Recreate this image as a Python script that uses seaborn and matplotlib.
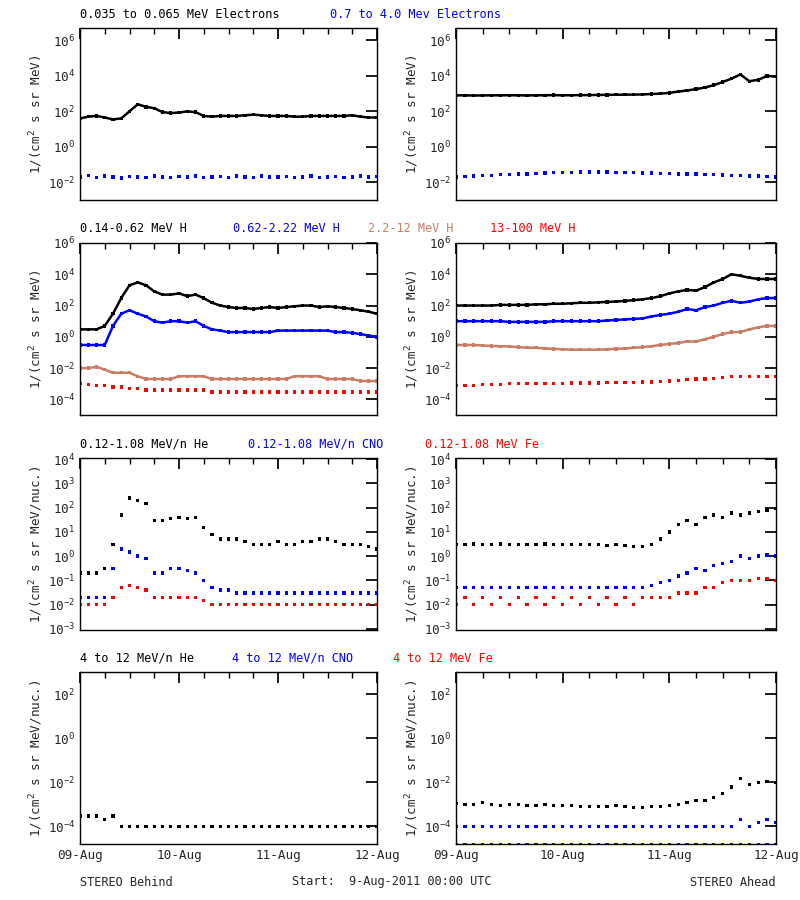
import numpy as np
import pandas as pd
import matplotlib
matplotlib.use("Agg")
import matplotlib.pyplot as plt
import seaborn as sns
from matplotlib.ticker import FixedLocator

sns.set_theme(style="white")
plt.rcParams['font.family'] = ['DejaVu Sans Mono', 'DejaVu Sans']

hours = list(range(0, 73, 2))  # 37 samples, hours since 9-Aug-2011 00:00

# Row 1: electrons
b_e_lo = [40,50,55,45,35,40,100,250,180,150,90,80,85,100,90,55,50,55,55,55,60,65,60,55,55,55,50,50,55,55,55,55,55,60,50,45,45]
b_e_hi = [0.02,0.025,0.018,0.022,0.02,0.017,0.021,0.02,0.019,0.023,0.02,0.018,0.021,0.02,0.022,0.019,0.02,0.021,0.018,0.022,0.02,0.019,0.023,0.02,0.02,0.021,0.019,0.02,0.022,0.018,0.02,0.021,0.019,0.02,0.022,0.02,0.021]
a_e_lo = [800,800,780,790,800,800,810,800,790,800,810,820,800,810,820,830,840,850,860,870,880,900,950,1000,1100,1300,1500,1800,2200,3000,4500,7000,12000,5000,6000,10000,9000]
a_e_hi = [0.02,0.021,0.022,0.024,0.025,0.027,0.028,0.03,0.03,0.032,0.033,0.035,0.035,0.036,0.037,0.038,0.038,0.038,0.036,0.035,0.035,0.034,0.033,0.032,0.031,0.03,0.03,0.029,0.028,0.027,0.026,0.025,0.024,0.023,0.022,0.021,0.02]

# Row 2: protons
b_h1 = [3,3,3,5,30,300,2000,3000,2000,800,500,500,600,400,500,300,150,100,80,70,70,60,70,80,70,80,90,100,100,80,90,80,70,60,50,40,30]
b_h2 = [0.3,0.3,0.3,0.3,5,30,50,30,20,10,8,10,10,8,10,5,3,2.5,2,2,2,2,2,2,2.5,2.5,2.5,2.5,2.5,2.5,2.5,2,2,1.8,1.5,1.2,1.0]
b_h3 = [0.01,0.01,0.012,0.008,0.005,0.005,0.005,0.003,0.002,0.002,0.002,0.002,0.003,0.003,0.003,0.003,0.002,0.002,0.002,0.002,0.002,0.002,0.002,0.002,0.002,0.002,0.003,0.003,0.003,0.003,0.002,0.002,0.002,0.002,0.0015,0.0015,0.0015]
b_h4 = [0.001,0.0009,0.0008,0.0008,0.0006,0.0006,0.0005,0.0005,0.0004,0.0004,0.0004,0.0004,0.0004,0.0004,0.0004,0.0004,0.0003,0.0003,0.0003,0.0003,0.0003,0.0003,0.0003,0.0003,0.0003,0.0003,0.0003,0.0003,0.0003,0.0003,0.0003,0.0003,0.0003,0.0003,0.0003,0.0003,0.0003]
a_h1 = [100,100,100,100,100,110,110,110,110,120,120,130,130,140,150,150,160,170,180,200,220,250,300,400,600,800,1000,900,1500,3000,5000,10000,8000,6000,5000,5000,5000]
a_h2 = [10,10,10,10,10,10,9,9,9,9,9,10,10,10,10,10,10,11,12,13,14,15,20,25,30,40,60,50,80,100,150,200,150,180,250,300,300]
a_h3 = [0.3,0.3,0.3,0.28,0.26,0.25,0.24,0.22,0.2,0.2,0.18,0.17,0.16,0.15,0.15,0.15,0.15,0.16,0.17,0.18,0.2,0.22,0.25,0.3,0.35,0.4,0.5,0.5,0.7,1.0,1.5,2.0,2.0,3.0,4.0,5.0,5.0]
a_h4 = [0.0008,0.0008,0.0008,0.0009,0.0009,0.0009,0.001,0.001,0.001,0.001,0.001,0.001,0.001,0.0011,0.0011,0.0011,0.0011,0.0012,0.0012,0.0012,0.0012,0.0013,0.0013,0.0014,0.0015,0.0016,0.0018,0.002,0.002,0.0022,0.0025,0.003,0.003,0.003,0.003,0.003,0.003]

# Row 3: low-energy heavy ions
b_he = [0.2,0.2,0.2,0.3,3,50,250,200,150,30,30,35,40,35,40,15,8,5,5,5,4,3,3,3,4,3,3,4,4,5,5,4,3,3,3,2.5,2]
b_cno = [0.02,0.02,0.02,0.02,0.3,2,1.5,1,0.8,0.2,0.2,0.3,0.3,0.25,0.2,0.1,0.05,0.04,0.04,0.03,0.03,0.03,0.03,0.03,0.03,0.03,0.03,0.03,0.03,0.03,0.03,0.03,0.03,0.03,0.03,0.03,0.03]
b_fe = [0.01,0.01,0.01,0.01,0.02,0.05,0.06,0.05,0.04,0.02,0.02,0.02,0.02,0.02,0.02,0.015,0.01,0.01,0.01,0.01,0.01,0.01,0.01,0.01,0.01,0.01,0.01,0.01,0.01,0.01,0.01,0.01,0.01,0.01,0.01,0.01,0.01]
a_he = [3,3,3.2,3,3,3.2,3,3,3,3,3.2,3,3,3,3,3,3,2.8,3,2.8,2.5,2.5,3,5,10,20,30,20,40,50,40,60,50,60,70,80,90]
a_cno = [0.05,0.05,0.05,0.05,0.05,0.05,0.05,0.05,0.05,0.05,0.05,0.05,0.05,0.05,0.05,0.05,0.05,0.05,0.05,0.05,0.05,0.05,0.06,0.08,0.1,0.15,0.2,0.3,0.25,0.4,0.5,0.6,1.0,0.8,1.0,1.1,1.0]
a_fe = [0.01,0.02,0.01,0.02,0.01,0.02,0.01,0.02,0.01,0.02,0.01,0.02,0.01,0.02,0.01,0.02,0.01,0.02,0.01,0.02,0.01,0.02,0.02,0.02,0.02,0.03,0.03,0.03,0.05,0.05,0.08,0.1,0.1,0.1,0.12,0.12,0.1]

# Row 4: high-energy heavy ions
b_he_hi = [3e-4,3e-4,3e-4,2e-4,3e-4,1e-4,1e-4,1e-4,1e-4,1e-4,1e-4,1e-4,1e-4,1e-4,1e-4,1e-4,1e-4,1e-4,1e-4,1e-4,1e-4,1e-4,1e-4,1e-4,1e-4,1e-4,1e-4,1e-4,1e-4,1e-4,1e-4,1e-4,1e-4,1e-4,1e-4,1e-4,1e-4]
a_he_hi = [1.1e-3,1e-3,1e-3,1.2e-3,1e-3,9e-4,1e-3,1e-3,9e-4,9e-4,1e-3,9e-4,9e-4,9e-4,8e-4,8e-4,8e-4,8e-4,9e-4,8e-4,7e-4,7e-4,8e-4,8e-4,9e-4,1e-3,1.2e-3,1.5e-3,1.5e-3,2e-3,3e-3,6e-3,1.5e-2,8e-3,1e-2,1.1e-2,1e-2]
a_cno_hi = [1e-4,1e-4,1e-4,1e-4,1e-4,1e-4,1e-4,1e-4,1e-4,1e-4,1e-4,1e-4,1e-4,1e-4,1e-4,1e-4,1e-4,1e-4,1e-4,1e-4,1e-4,1e-4,1e-4,1e-4,1e-4,1e-4,1e-4,1e-4,1e-4,1e-4,1e-4,1e-4,2e-4,1e-4,1.5e-4,2e-4,1.5e-4]
a_cno_floor = [1.5e-5]*37

date_ticks = [0, 24, 48, 72]
date_labels = ["09-Aug", "10-Aug", "11-Aug", "12-Aug"]

row_titles = [
    [("0.035 to 0.065 MeV Electrons", "black"), ("0.7 to 4.0 Mev Electrons", "blue")],
    [("0.14-0.62 MeV H", "black"), ("0.62-2.22 MeV H", "blue"), ("2.2-12 MeV H", "#c87d64"), ("13-100 MeV H", "red")],
    [("0.12-1.08 MeV/n He", "black"), ("0.12-1.08 MeV/n CNO", "blue"), ("0.12-1.08 MeV Fe", "red")],
    [("4 to 12 MeV/n He", "black"), ("4 to 12 MeV/n CNO", "blue"), ("4 to 12 MeV Fe", "red")],
]
title_x = [[80, 330], [80, 233, 368, 490], [80, 248, 425], [80, 232, 393]]

ylims = [(1e-3, 10**6.7), (1e-5, 1e6), (10**-3.05, 10**4.05), (10**-4.8, 1e3)]
ylabels = ["1/(cm$^2$ s sr MeV)", "1/(cm$^2$ s sr MeV)",
           "1/(cm$^2$ s sr MeV/nuc.)", "1/(cm$^2$ s sr MeV/nuc.)"]
yticks = [[1e-2, 1, 1e2, 1e4, 1e6], [1e-4, 1e-2, 1, 1e2, 1e4, 1e6],
          [1e-3, 1e-2, 1e-1, 1, 1e1, 1e2, 1e3, 1e4], [1e-4, 1e-2, 1, 1e2]]

panels = [
    [[(b_e_lo, "black", "line"), (b_e_hi, "blue", "dots")],
     [(a_e_lo, "black", "line"), (a_e_hi, "blue", "dots")]],
    [[(b_h1, "black", "line"), (b_h2, "blue", "line"), (b_h3, "#c87d64", "line"), (b_h4, "red", "dots")],
     [(a_h1, "black", "line"), (a_h2, "blue", "line"), (a_h3, "#c87d64", "line"), (a_h4, "red", "dots")]],
    [[(b_he, "black", "dots"), (b_cno, "blue", "dots"), (b_fe, "red", "dots")],
     [(a_he, "black", "dots"), (a_cno, "blue", "dots"), (a_fe, "red", "dots")]],
    [[(b_he_hi, "black", "dots")],
     [(a_he_hi, "black", "dots"), (a_cno_hi, "blue", "dots"), (a_cno_floor, "blue", "dots")]],
]

FS = 8.6
W, H = 800, 900
fig = plt.figure(figsize=(8, 9), dpi=100)
fig.patch.set_facecolor("white")
tops = [28, 243, 458, 672]
lefts = [(80, 297), (456, 320)]
ph = 172

for r in range(4):
    for c in range(2):
        l, w = lefts[c]
        ax = fig.add_axes([l / W, 1 - (tops[r] + ph) / H, w / W, ph / H])
        for vals, col, kind in panels[r][c]:
            df = pd.DataFrame({"t": hours, "v": vals})
            if kind == "line":
                sns.lineplot(data=df, x="t", y="v", color=col, lw=1.8, ax=ax)
            sns.scatterplot(data=df, x="t", y="v", color=col, s=6, marker="s",
                            edgecolor="none", ax=ax)
        ax.set_yscale("log")
        ax.set_xlim(0, 72)
        ax.set_ylim(*ylims[r])
        ax.set_xlabel("")
        ax.set_ylabel(ylabels[r], fontsize=FS + 0.5, labelpad=2)
        ax.yaxis.set_major_locator(FixedLocator(yticks[r]))
        ax.yaxis.set_minor_locator(FixedLocator([]))
        ax.set_xticks(date_ticks)
        ax.set_xticks(list(range(0, 73, 6)), minor=True)
        if r == 3:
            ax.set_xticklabels(date_labels, fontsize=FS)
        else:
            ax.set_xticklabels([])
        ax.tick_params(axis="both", which="major", direction="in", length=8,
                       top=True, right=True, labelsize=FS + 0.5, color="black")
        ax.tick_params(axis="both", which="minor", direction="in", length=4,
                       top=True, right=True, color="black")
        for s in ax.spines.values():
            s.set_color("black")
            s.set_linewidth(1)
    for (txt, col), x in zip(row_titles[r], title_x[r]):
        fig.text(x / W, 1 - (tops[r] - 14) / H, txt, color=col, fontsize=FS,
                 ha="left", va="center")

fig.text(80 / W, 1 - 882 / H, "STEREO Behind", fontsize=FS, va="center")
fig.text(292 / W, 1 - 882 / H, "Start:  9-Aug-2011 00:00 UTC", fontsize=FS, va="center")
fig.text(776 / W, 1 - 882 / H, "STEREO Ahead", fontsize=FS, va="center", ha="right")

fig.savefig("out.png", dpi=100, facecolor="white")
